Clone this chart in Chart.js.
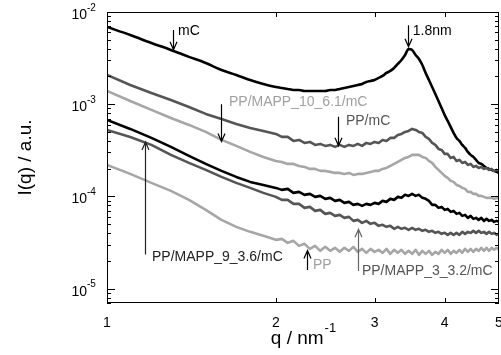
<!DOCTYPE html>
<html>
<head>
<meta charset="utf-8">
<script src="https://cdn.jsdelivr.net/npm/chart.js@4.4.1/dist/chart.umd.min.js"></script>
<style>
  html, body { margin: 0; padding: 0; background: #fff; }
</style>
</head>
<body>
<canvas id="chart" width="501" height="355"></canvas>
<script>
// scattering vector q (nm^-1), shared by all curves
var q = [1.0, 1.1, 1.2, 1.3, 1.4, 1.5, 1.6, 1.7, 1.8, 1.9,
         2.0, 2.05, 2.1, 2.15, 2.2, 2.25, 2.3, 2.35, 2.4, 2.45,
         2.5, 2.55, 2.6, 2.65, 2.7, 2.75, 2.8, 2.85, 2.9, 2.95,
         3.0, 3.05, 3.1, 3.15, 3.2, 3.25, 3.3, 3.35, 3.4, 3.45,
         3.5, 3.55, 3.6, 3.65, 3.7, 3.75, 3.8, 3.85, 3.9, 3.95,
         4.0, 4.05, 4.1, 4.15, 4.2, 4.25, 4.3, 4.35, 4.4, 4.45,
         4.5, 4.55, 4.6, 4.65, 4.7, 4.75, 4.8, 4.85, 4.9, 4.95, 5.0];

// intensities I(q)
var mC = [6.88e-3, 5.63e-3, 4.61e-3, 3.88e-3, 3.26e-3, 2.80e-3, 2.35e-3, 2.08e-3, 1.83e-3, 1.66e-3,
          1.54e-3, 1.50e-3, 1.465e-3, 1.429e-3, 1.429e-3, 1.394e-3, 1.394e-3, 1.394e-3, 1.394e-3, 1.394e-3,
          1.429e-3, 1.429e-3, 1.465e-3, 1.502e-3, 1.540e-3, 1.579e-3, 1.619e-3, 1.660e-3, 1.745e-3, 1.789e-3,
          1.834e-3, 1.927e-3, 2.026e-3, 2.183e-3, 2.295e-3, 2.474e-3, 2.733e-3, 3.020e-3, 3.422e-3, 3.973e-3,
          3.877e-3, 3.422e-3, 3.097e-3, 2.666e-3, 2.183e-3, 1.834e-3, 1.540e-3, 1.293e-3, 1.086e-3, 9.117e-4,
          7.658e-4, 6.594e-4, 5.678e-4, 4.887e-4, 4.314e-4, 4.003e-4, 3.623e-4, 3.361e-4, 3.042e-4, 2.823e-4,
          2.685e-4, 2.491e-4, 2.312e-4, 2.255e-4, 2.145e-4, 2.040e-4, 1.990e-4, 1.941e-4, 1.893e-4, 1.847e-4, 1.801e-4];
var ppMC = [2.077e-3, 1.619e-3, 1.326e-3, 1.113e-3, 9.348e-4, 7.852e-4, 6.931e-4, 6.119e-4, 5.538e-4, 5.137e-4,
            4.767e-4, 4.423e-4, 4.423e-4, 4.003e-4, 4.104e-4, 3.808e-4, 3.904e-4, 3.623e-4, 3.714e-4, 3.533e-4,
            3.623e-4, 3.446e-4, 3.623e-4, 3.446e-4, 3.623e-4, 3.533e-4, 3.714e-4, 3.533e-4, 3.808e-4, 3.714e-4,
            3.904e-4, 3.808e-4, 4.104e-4, 4.003e-4, 4.314e-4, 4.314e-4, 4.649e-4, 4.767e-4, 5.011e-4, 5.137e-4,
            5.401e-4, 5.267e-4, 5.011e-4, 4.887e-4, 4.423e-4, 4.208e-4, 3.808e-4, 3.623e-4, 3.279e-4, 3.198e-4,
            2.894e-4, 2.894e-4, 2.619e-4, 2.685e-4, 2.430e-4, 2.491e-4, 2.312e-4, 2.370e-4, 2.199e-4, 2.255e-4,
            2.092e-4, 2.145e-4, 2.040e-4, 2.092e-4, 1.990e-4, 2.040e-4, 1.941e-4, 1.990e-4, 1.893e-4, 1.941e-4, 1.893e-4];
var ppMapp10 = [1.394e-3, 1.086e-3, 8.676e-4, 7.106e-4, 5.968e-4, 5.011e-4, 4.104e-4, 3.533e-4, 3.042e-4, 2.685e-4,
                2.430e-4, 2.370e-4, 2.255e-4, 2.255e-4, 2.145e-4, 2.092e-4, 1.990e-4, 1.990e-4, 1.893e-4, 1.893e-4,
                1.847e-4, 1.801e-4, 1.801e-4, 1.757e-4, 1.801e-4, 1.713e-4, 1.757e-4, 1.757e-4, 1.801e-4, 1.847e-4,
                1.893e-4, 1.893e-4, 1.990e-4, 2.040e-4, 2.145e-4, 2.255e-4, 2.370e-4, 2.491e-4, 2.619e-4, 2.685e-4,
                2.823e-4, 2.823e-4, 2.823e-4, 2.685e-4, 2.619e-4, 2.430e-4, 2.312e-4, 2.092e-4, 1.941e-4, 1.801e-4,
                1.671e-4, 1.590e-4, 1.476e-4, 1.439e-4, 1.335e-4, 1.302e-4, 1.239e-4, 1.209e-4, 1.122e-4, 1.122e-4,
                1.067e-4, 1.067e-4, 1.015e-4, 1.015e-4, 9.90e-5, 9.66e-5, 9.66e-5, 9.66e-5, 9.42e-5, 9.66e-5, 9.42e-5];
var ppMapp9 = [6.761e-4, 5.401e-4, 4.314e-4, 3.446e-4, 2.753e-4, 2.255e-4, 1.893e-4, 1.630e-4, 1.439e-4, 1.335e-4,
               1.239e-4, 1.179e-4, 1.209e-4, 1.094e-4, 1.122e-4, 1.041e-4, 1.067e-4, 9.90e-5, 1.015e-4, 9.42e-5,
               9.66e-5, 8.961e-5, 9.187e-5, 8.525e-5, 8.740e-5, 8.110e-5, 8.315e-5, 7.910e-5, 8.315e-5, 8.110e-5,
               8.525e-5, 8.315e-5, 8.961e-5, 8.740e-5, 9.42e-5, 9.187e-5, 9.90e-5, 9.66e-5, 1.041e-4, 1.015e-4,
               1.067e-4, 1.015e-4, 1.041e-4, 9.66e-5, 9.42e-5, 8.961e-5, 8.110e-5, 8.110e-5, 7.525e-5, 7.715e-5,
               7.158e-5, 7.339e-5, 6.810e-5, 6.982e-5, 6.478e-5, 6.642e-5, 6.163e-5, 6.319e-5, 5.863e-5, 6.163e-5,
               5.719e-5, 5.863e-5, 5.578e-5, 5.863e-5, 5.440e-5, 5.719e-5, 5.440e-5, 5.578e-5, 5.306e-5, 5.440e-5, 5.306e-5];
var ppMapp3 = [5.267e-4, 4.423e-4, 3.623e-4, 2.823e-4, 2.312e-4, 1.941e-4, 1.630e-4, 1.404e-4, 1.239e-4, 1.094e-4,
               9.90e-5, 9.187e-5, 9.187e-5, 8.315e-5, 8.315e-5, 7.525e-5, 7.715e-5, 6.982e-5, 7.158e-5, 6.478e-5,
               6.642e-5, 6.163e-5, 6.319e-5, 5.863e-5, 6.011e-5, 5.440e-5, 5.578e-5, 5.176e-5, 5.440e-5, 5.048e-5,
               5.176e-5, 4.802e-5, 4.924e-5, 4.684e-5, 4.802e-5, 4.456e-5, 4.684e-5, 4.456e-5, 4.569e-5, 4.346e-5,
               4.569e-5, 4.346e-5, 4.456e-5, 4.239e-5, 4.346e-5, 4.135e-5, 4.239e-5, 4.033e-5, 4.135e-5, 3.933e-5,
               4.033e-5, 3.836e-5, 4.033e-5, 3.836e-5, 4.033e-5, 3.836e-5, 4.135e-5, 3.933e-5, 4.135e-5, 4.033e-5,
               4.239e-5, 4.033e-5, 4.239e-5, 4.033e-5, 4.135e-5, 3.933e-5, 4.135e-5, 3.933e-5, 4.033e-5, 3.836e-5, 3.933e-5];
var pp = [2.199e-4, 1.757e-4, 1.404e-4, 1.150e-4, 9.187e-5, 7.158e-5, 5.578e-5, 4.684e-5, 4.135e-5, 3.742e-5,
          3.386e-5, 3.472e-5, 3.142e-5, 3.303e-5, 2.915e-5, 3.065e-5, 2.705e-5, 2.915e-5, 2.573e-5, 2.844e-5,
          2.573e-5, 2.774e-5, 2.510e-5, 2.774e-5, 2.573e-5, 2.844e-5, 2.510e-5, 2.705e-5, 2.448e-5, 2.705e-5,
          2.510e-5, 2.638e-5, 2.448e-5, 2.705e-5, 2.388e-5, 2.638e-5, 2.448e-5, 2.638e-5, 2.388e-5, 2.573e-5,
          2.388e-5, 2.638e-5, 2.329e-5, 2.573e-5, 2.388e-5, 2.573e-5, 2.329e-5, 2.510e-5, 2.388e-5, 2.638e-5,
          2.448e-5, 2.638e-5, 2.388e-5, 2.573e-5, 2.448e-5, 2.638e-5, 2.448e-5, 2.705e-5, 2.510e-5, 2.705e-5,
          2.510e-5, 2.705e-5, 2.573e-5, 2.774e-5, 2.573e-5, 2.774e-5, 2.573e-5, 2.774e-5, 2.638e-5, 2.774e-5, 2.638e-5];

var xTicks = [1, 2, 3, 4, 5];
var yDecades = [1e-2, 1e-3, 1e-4, 1e-5];
var yExps = ['-2', '-3', '-4', '-5'];

// curve labels with arrows (positions in data units)
var notes = [
  { text: 'mC', color: '#000', tx: 1.339, ty: 6.2e-3, ax: 1.311, from: 6.4e-3, to: 3.9e-3, arrow: '#000' },
  { text: '1.8nm', color: '#000', tx: 3.51, ty: 6.2e-3, ax: 3.44, from: 7.2e-3, to: 4.2e-3, arrow: '#000' },
  { text: 'PP/MAPP_10_6.1/mC', color: '#a0a0a0', tx: 1.65, ty: 1.06e-3, ax: 1.597, from: 1.0e-3, to: 3.95e-4, arrow: '#000' },
  { text: 'PP/mC', color: '#555', tx: 2.667, ty: 6.5e-4, ax: 2.58, from: 7.3e-4, to: 3.55e-4, arrow: '#000' },
  { text: 'PP/MAPP_9_3.6/mC', color: '#222', tx: 1.203, ty: 2.2e-5, ax: 1.169, from: 2.35e-5, to: 3.9e-4, arrow: '#222' },
  { text: 'PP', color: '#a0a0a0', tx: 2.329, ty: 1.8e-5, ax: 2.273, from: 1.6e-5, to: 2.6e-5, arrow: '#000' },
  { text: 'PP/MAPP_3_3.2/mC', color: '#555', tx: 2.848, ty: 1.56e-5, ax: 2.80, from: 1.56e-5, to: 4.4e-5, arrow: '#666' }
];

var FONT = '"Liberation Sans", Arial, Helvetica, sans-serif';

function series(vals, color, smooth) {
  return {
    data: q.map(function (x, i) { return { x: x, y: vals[i] }; }),
    borderColor: color,
    borderWidth: 2.6,
    pointRadius: 0,
    fill: false,
    borderJoinStyle: 'round',
    cubicInterpolationMode: smooth ? 'monotone' : 'default',
    tension: 0
  };
}

var decor = {
  id: 'decor',
  afterDatasetsDraw: function (chart) {
    var ctx = chart.ctx, a = chart.chartArea;
    var xs = chart.scales.x, ys = chart.scales.y;
    ctx.save();

    // frame
    ctx.strokeStyle = '#000';
    ctx.lineWidth = 1;
    ctx.strokeRect(Math.round(a.left) + 0.5, Math.round(a.top) + 0.5,
                   Math.round(a.right - a.left) - 1, Math.round(a.bottom - a.top) - 1);

    // y ticks, inward on both sides
    ctx.beginPath();
    for (var k = -6; k <= -2; k++) {
      for (var m = 1; m <= 9; m++) {
        var v = m * Math.pow(10, k);
        if (v < ys.min || v > ys.max * 1.0001) continue;
        var py = Math.round(ys.getPixelForValue(v)) + 0.5;
        var len = m === 1 ? 8 : 4;
        ctx.moveTo(a.left, py); ctx.lineTo(a.left + len, py);
        ctx.moveTo(a.right, py); ctx.lineTo(a.right - len, py);
      }
    }
    // x ticks, inward top and bottom
    xTicks.forEach(function (t) {
      if (t === xs.min || t === xs.max) return;
      var px = Math.round(xs.getPixelForValue(t)) + 0.5;
      ctx.moveTo(px, a.bottom); ctx.lineTo(px, a.bottom - 5);
      ctx.moveTo(px, a.top); ctx.lineTo(px, a.top + 5);
    });
    ctx.stroke();

    // tick labels
    ctx.fillStyle = '#000';
    ctx.textBaseline = 'middle';
    ctx.textAlign = 'center';
    ctx.font = '14px ' + FONT;
    xTicks.forEach(function (t) {
      ctx.fillText(String(t), xs.getPixelForValue(t), a.bottom + 20);
    });
    yDecades.forEach(function (v, i) {
      var py = ys.getPixelForValue(v);
      ctx.textAlign = 'right';
      ctx.font = '14px ' + FONT;
      ctx.fillText('10', a.left - 20, py + 3);
      ctx.textAlign = 'left';
      ctx.font = '10px ' + FONT;
      ctx.fillText(yExps[i], a.left - 20, py - 4);
    });

    // axis titles
    ctx.font = '19px ' + FONT;
    var t1 = 'q / nm', w1 = ctx.measureText(t1).width;
    ctx.font = '13px ' + FONT;
    var w2 = ctx.measureText('-1').width;
    var cx = (a.left + a.right) / 2, x0 = cx - (w1 + w2) / 2;
    ctx.textAlign = 'left';
    ctx.font = '19px ' + FONT;
    ctx.fillText(t1, x0, a.bottom + 36);
    ctx.font = '13px ' + FONT;
    ctx.fillText('-1', x0 + w1 + 1, a.bottom + 25);

    ctx.save();
    ctx.translate(26, (a.top + a.bottom) / 2);
    ctx.rotate(-Math.PI / 2);
    ctx.textAlign = 'center';
    ctx.font = '19px ' + FONT;
    ctx.fillText('I(q) / a.u.', 0, 0);
    ctx.restore();

    // curve labels and arrows
    notes.forEach(function (n) {
      var px = Math.round(xs.getPixelForValue(n.ax)) + 0.5;
      var y0 = ys.getPixelForValue(n.from), y1 = ys.getPixelForValue(n.to);
      var dir = y1 > y0 ? 1 : -1;
      ctx.strokeStyle = n.arrow;
      ctx.lineWidth = 1.2;
      ctx.beginPath();
      ctx.moveTo(px, y0); ctx.lineTo(px, y1);
      ctx.moveTo(px - 3.5, y1 - dir * 8); ctx.lineTo(px, y1); ctx.lineTo(px + 3.5, y1 - dir * 8);
      ctx.stroke();
      ctx.fillStyle = n.color;
      ctx.font = '14px ' + FONT;
      ctx.textAlign = 'left';
      ctx.textBaseline = 'middle';
      ctx.fillText(n.text, xs.getPixelForValue(n.tx), ys.getPixelForValue(n.ty));
    });

    ctx.restore();
  }
};

new Chart(document.getElementById('chart'), {
  type: 'line',
  data: {
    datasets: [
      series(pp, '#a6a6a6'),
      series(ppMapp3, '#555'),
      series(ppMapp9, '#000'),
      series(ppMapp10, '#a6a6a6'),
      series(ppMC, '#555'),
      series(mC, '#000', true)
    ]
  },
  options: {
    responsive: false,
    animation: false,
    layout: { padding: { left: 107, top: 12, right: 2, bottom: 52 } },
    plugins: { legend: { display: false }, tooltip: { enabled: false } },
    scales: {
      x: { type: 'logarithmic', min: 1, max: 5, display: false },
      y: { type: 'logarithmic', min: 7e-6, max: 1e-2, display: false }
    }
  },
  plugins: [decor]
});
</script>
</body>
</html>
